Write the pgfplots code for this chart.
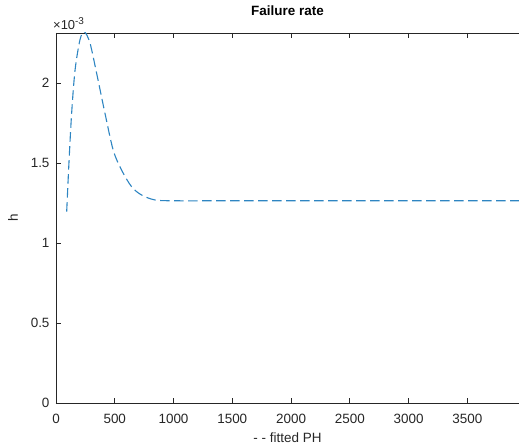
\documentclass[border=0pt]{standalone}
\usepackage{fontspec}
\setmainfont{Liberation Sans}
\usepackage{pgfplots}
\pgfplotsset{compat=1.18}
\definecolor{mblue}{rgb}{0.18,0.52,0.76}
\definecolor{axgray}{rgb}{0.15,0.15,0.15}
\begin{document}
\begin{tikzpicture}
\begin{axis}[
  name=ax,
  scale only axis,
  width=463bp, height=370bp,
  xmin=0, xmax=3940,
  ymin=0, ymax=2.3125e-3,
  axis x line*=box,
  axis y line*=left,
  xtick={0,500,...,3500},
  ytick={0,0.5e-3,1e-3,1.5e-3,2e-3},
  scaled y ticks=base 10:3,
  xtick pos=both, ytick pos=left,
  tick align=inside,
  major tick length=5bp,
  axis line style={axgray, line width=0.6bp},
  every tick/.style={axgray, line width=0.6bp},
  /pgf/number format/assume math mode=true,
  /pgf/number format/1000 sep={},
  tick label style={font=\fontsize{13.5}{15}\selectfont, text=axgray},
  xticklabel style={yshift=-8bp},
  yticklabel style={xshift=-3bp},
  ytick scale label code/.code={\fontsize{13}{15}\selectfont\raisebox{0pt}{\char"00D7}10\raisebox{5bp}{\fontsize{10}{12}\selectfont -3}},
  every y tick scale label/.style={at={(rel axis cs:0,1)}, anchor=south west, inner sep=0pt, yshift=3bp, text=axgray},
  title={\textbf{Failure rate}},
  title style={font=\fontsize{13.5}{16}\selectfont, text=black, at={(0.5,1)}, anchor=south, yshift=9bp, inner sep=2bp},
  xlabel={- - fitted PH},
  ylabel={h},
  label style={font=\fontsize{13.5}{16}\selectfont, text=axgray},
  xlabel style={yshift=-2bp},
  ylabel style={yshift=6bp},
  clip=true,
]
\addplot[mblue, line width=1.1bp, dash pattern=on 9.5bp off 4.5bp, smooth] coordinates {
(91,1.196e-3) (110,1.498e-3) (133,1.81e-3) (162,2.08e-3) (204,2.27e-3) (241,2.32e-3)
(289,2.25e-3) (346,2.06e-3) (417,1.81e-3) (487,1.58e-3) (558,1.456e-3) (643,1.352e-3)
(728,1.30e-3) (842,1.269e-3) (997,1.264e-3) (1500,1.264e-3) (2500,1.264e-3) (3940,1.264e-3)
};
\end{axis}
\pgfresetboundingbox
\path ([shift={(-56bp,-43bp)}]ax.south west) rectangle ([shift={(0bp,33bp)}]ax.north east);
\end{tikzpicture}
\end{document}
